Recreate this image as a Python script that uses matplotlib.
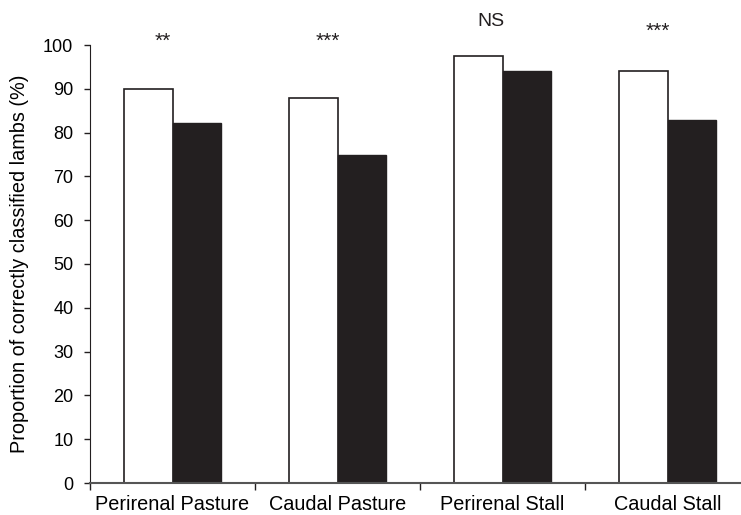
import matplotlib
matplotlib.use("Agg")
import matplotlib.pyplot as plt
import numpy as np

plt.rcParams['font.family'] = ['Liberation Sans', 'DejaVu Sans']

# data
groups = ['Perirenal Pasture', 'Caudal Pasture', 'Perirenal Stall', 'Caudal Stall']
white_vals = [90.0, 88.0, 97.5, 94.0]
black_vals = [82.3, 75.0, 94.0, 82.8]
signif = ['**', '***', 'NS', '***']
signif_y = [103.0, 103.0, 107.2, 105.2]

fig = plt.figure(figsize=(7.41, 5.15), dpi=100)
ax = fig.add_axes([90 / 741, 32 / 515, 660 / 741, 438 / 515])

x = np.arange(len(groups))
w = 0.295
ax.bar(x - w / 2, white_vals, w, color='white', edgecolor='#231f20', linewidth=1.2)
ax.bar(x + w / 2, black_vals, w, color='#231f20', edgecolor='#231f20', linewidth=1.0)

for xi, s, yy in zip(x, signif, signif_y):
    if s == 'NS':
        ax.text(xi - 0.07, yy, s, ha='center', va='top', fontsize=14, color='#231f20')
    else:
        ax.text(xi - 0.06, yy, s, ha='center', va='top', fontsize=15, color='#231f20')

ax.set_xlim(-0.5, 3.5)
ax.set_ylim(0, 100)
ax.set_yticks(np.arange(0, 101, 10))
ax.tick_params(axis='y', labelsize=13, length=4.5, width=1, pad=7.5,
               direction='out', color='#231f20')

# x ticks at group boundaries, labels centered on groups
ax.set_xticks(np.arange(-0.5, 3.6, 1))
ax.set_xticklabels([])
ax.set_xticks(x, minor=True)
ax.set_xticklabels(groups, minor=True, fontsize=14.3)
ax.tick_params(axis='x', which='major', length=5, width=1, color='#231f20')
ax.tick_params(axis='x', which='minor', length=0, pad=8.5)

for side in ['top', 'right']:
    ax.spines[side].set_visible(False)
ax.spines['left'].set_color('#231f20')
ax.spines['bottom'].set_color('#555555')
ax.spines['bottom'].set_linewidth(1.5)

ax.set_ylabel('Proportion of correctly classified lambs (%)', fontsize=14.3)
ax.yaxis.set_label_coords(-0.092, 0.5)

fig.savefig('out.png', dpi=100)
